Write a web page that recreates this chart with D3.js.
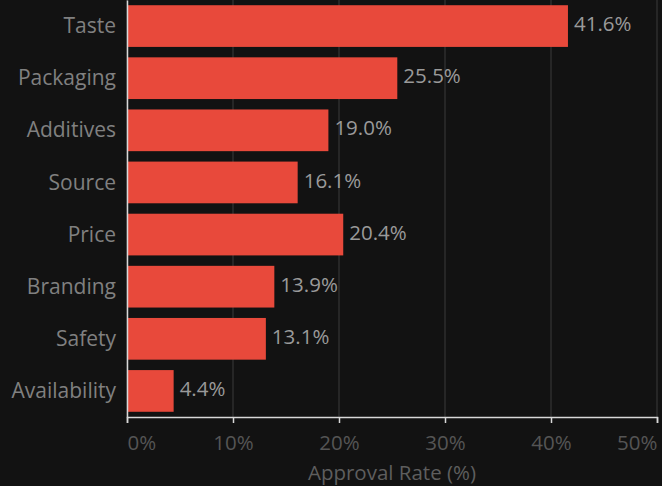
<!DOCTYPE html>
<html>
<head>
<meta charset="utf-8">
<script src="https://cdn.jsdelivr.net/npm/d3@7/dist/d3.min.js"></script>
<style>
  html, body { margin: 0; padding: 0; background: #121212; }
  svg { display: block; }
  text { font-family: "Open Sans", "Noto Sans", sans-serif; }
</style>
</head>
<body>
<svg id="chart" width="662" height="486"></svg>
<script>
const categories = ["Taste", "Packaging", "Additives", "Source", "Price", "Branding", "Safety", "Availability"];
const approval = [41.6, 25.5, 19.0, 16.1, 20.4, 13.9, 13.1, 4.4];
const tickValues = [0, 10, 20, 30, 40, 50];

const W = 662, H = 486;
const margin = { left: 127, right: 5, top: 0, bottom: 69 };
const innerW = W - margin.left - margin.right;
const innerH = H - margin.top - margin.bottom;

const svg = d3.select("#chart");
svg.append("rect").attr("width", W).attr("height", H).attr("fill", "#121212");

const g = svg.append("g").attr("transform", `translate(${margin.left},${margin.top})`);

const x = d3.scaleLinear().domain([0, 50]).range([0, innerW]);
const y = d3.scaleBand().domain(categories).range([0, innerH]).paddingInner(0.2).paddingOuter(0.1);

// vertical grid
g.append("g").selectAll("line").data(tickValues).join("line")
  .attr("x1", d => x(d)).attr("x2", d => x(d))
  .attr("y1", 0).attr("y2", innerH)
  .attr("stroke", "#3a3a3a").attr("stroke-width", 1);

// bars
const rows = categories.map((c, i) => ({ c, v: approval[i] }));
g.append("g").selectAll("rect").data(rows).join("rect")
  .attr("x", 0).attr("y", d => y(d.c))
  .attr("width", d => x(d.v)).attr("height", y.bandwidth())
  .attr("fill", "#e8493b");

// value labels
g.append("g").selectAll("text").data(rows).join("text")
  .attr("x", d => x(d.v) + 6).attr("y", d => y(d.c) + y.bandwidth() / 2 - 2)
  .attr("dy", "0.35em")
  .attr("fill", "#9a9a9a").attr("font-size", 20.5)
  .text(d => d.v.toFixed(1) + "%");

// x axis
const xAxis = g.append("g").attr("transform", `translate(0,${innerH})`)
  .call(d3.axisBottom(x).tickValues(tickValues).tickFormat(d => d + "%").tickSize(6).tickPadding(12));
xAxis.select(".domain").attr("stroke", "#d8d8d8").attr("stroke-width", 1.5);
xAxis.selectAll(".tick line").attr("stroke", "#d8d8d8").attr("stroke-width", 1.5);
xAxis.selectAll(".tick text")
  .attr("fill", "#555555").attr("font-size", 20.5)
  .attr("font-family", "'Open Sans', sans-serif")
  .attr("text-anchor", (d, i) => i === 0 ? "start" : (i === tickValues.length - 1 ? "end" : "middle"));

// y axis
const yAxis = g.append("g")
  .call(d3.axisLeft(y).tickSize(0).tickPadding(11));
yAxis.select(".domain").attr("stroke", "#d8d8d8").attr("stroke-width", 1.5);
yAxis.selectAll(".tick text")
  .attr("fill", "#808080").attr("font-size", 21)
  .attr("font-family", "'Open Sans', sans-serif")
  .attr("dy", "0.34em");

// axis title
g.append("text")
  .attr("x", innerW / 2).attr("y", innerH + 63)
  .attr("text-anchor", "middle")
  .attr("fill", "#5e5e5e").attr("font-size", 20.5)
  .text("Approval Rate (%)");
</script>
</body>
</html>
